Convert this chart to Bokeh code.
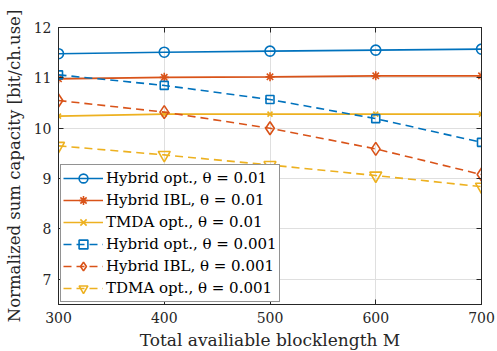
from bokeh.plotting import figure
from bokeh.models import LinearAxis, Range1d, FixedTicker, Legend
from bokeh.embed import file_html
from bokeh.resources import INLINE

M = [300, 400, 500, 600, 700]
hyb_opt_01 = [11.48, 11.51, 11.53, 11.55, 11.57]
hyb_ibl_01 = [10.98, 11.01, 11.02, 11.04, 11.04]
tdma_opt_01 = [10.24, 10.28, 10.28, 10.28, 10.28]
hyb_opt_001 = [11.06, 10.85, 10.57, 10.19, 9.72]
hyb_ibl_001 = [10.55, 10.32, 10.00, 9.59, 9.08]
tdma_opt_001 = [9.65, 9.47, 9.27, 9.06, 8.84]

labels = ["Hybrid opt., θ = 0.01", "Hybrid IBL, θ = 0.01", "TMDA opt., θ = 0.01",
          "Hybrid opt., θ = 0.001", "Hybrid IBL, θ = 0.001", "TDMA opt., θ = 0.001"]
x_ticks = [300, 400, 500, 600, 700]
y_ticks = [7, 8, 9, 10, 11, 12]

FONT = "DejaVu Serif"
BLUE, RED, YEL = "#0072BD", "#D95319", "#EDB120"
DARK = "#262626"

p = figure(frame_width=423, frame_height=277, min_border_left=58, min_border_right=16,
           min_border_top=27, min_border_bottom=47,
           x_range=Range1d(300, 700), y_range=Range1d(6.5, 12),
           output_backend="svg", toolbar_location=None)
p.outline_line_color = DARK
p.outline_line_width = 1
p.background_fill_color = "white"
p.border_fill_color = "white"

for ax in (p.xaxis[0], p.yaxis[0]):
    ax.major_tick_in = 5
    ax.major_tick_out = 0
    ax.minor_tick_in = 0
    ax.minor_tick_out = 0
    ax.axis_line_color = DARK
    ax.major_tick_line_color = DARK
    ax.major_label_text_font = FONT
    ax.major_label_text_font_size = "14px"
    ax.major_label_text_color = DARK
    ax.axis_label_text_font = FONT
    ax.axis_label_text_font_style = "normal"
    ax.axis_label_text_color = DARK

p.xaxis.axis_label_text_font_size = "17px"
p.yaxis.axis_label_text_font_size = "16.5px"
p.xaxis.ticker = FixedTicker(ticks=x_ticks)
p.yaxis.ticker = FixedTicker(ticks=y_ticks)
p.xaxis.axis_label = "Total availiable blocklength M"
p.yaxis.axis_label = "Normalized sum capacity [bit/ch.use]"
p.xaxis.major_label_standoff = 7
p.yaxis.major_label_standoff = 7
p.xaxis.axis_label_standoff = 4
p.yaxis.axis_label_standoff = 7

for loc, tk in (("right", y_ticks), ("above", x_ticks)):
    a = LinearAxis(ticker=FixedTicker(ticks=tk),
                   major_label_overrides={t: "" for t in tk},
                   major_label_standoff=0,
                   major_tick_in=5, major_tick_out=0, minor_tick_in=0, minor_tick_out=0,
                   axis_line_color=DARK, major_tick_line_color=DARK)
    p.add_layout(a, loc)

p.grid.grid_line_color = "#dfdfdf"
p.grid.grid_line_width = 1
p.xgrid.ticker = FixedTicker(ticks=x_ticks)
p.ygrid.ticker = FixedTicker(ticks=y_ticks)

series = [
    (hyb_opt_01, BLUE, "solid", "circle"),
    (hyb_ibl_01, RED, "solid", "asterisk"),
    (tdma_opt_01, YEL, "solid", "x"),
    (hyb_opt_001, BLUE, "8 5", "square"),
    (hyb_ibl_001, RED, "8 5", "diamond"),
    (tdma_opt_001, YEL, "8 5", "inverted_triangle"),
]
sizes = {"circle": 10, "asterisk": 9, "x": 7, "square": 8, "diamond": 13, "inverted_triangle": 12}
items = []
for (ys, c, dash, mk), lab in zip(series, labels):
    r1 = p.line(M, ys, line_color=c, line_width=1.6, line_dash=dash)
    r2 = p.scatter(M, ys, marker=mk, size=sizes[mk], line_color=c,
                   fill_color=(c if mk == "asterisk" else None),
                   fill_alpha=(1 if mk == "asterisk" else 0), line_width=1.6)
    items.append((lab, [r1, r2]))

leg = Legend(items=items, location="bottom_left", label_text_font=FONT,
             label_text_font_size="15px", label_text_color="#000000",
             border_line_color=DARK, border_line_width=1, background_fill_alpha=1,
             spacing=0, padding=2, margin=2, glyph_width=40, glyph_height=22,
             label_height=22, label_standoff=3)
p.add_layout(leg, "center")

open("out.html", "w").write(file_html(p, INLINE))
